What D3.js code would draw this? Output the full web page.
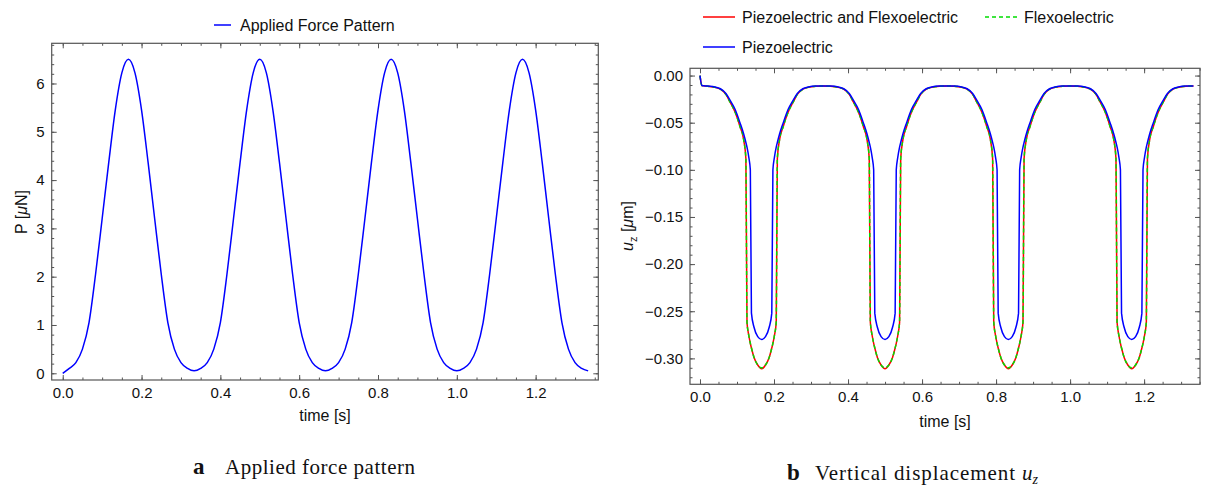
<!DOCTYPE html>
<html>
<head>
<meta charset="utf-8">
<script src="https://cdn.jsdelivr.net/npm/d3@7"></script>
<style>
  body { margin: 0; background: #fff; }
  text { font-family: "Liberation Sans", Arial, sans-serif; fill: #111; }
  .cap { font-family: "Liberation Serif", "DejaVu Serif", serif; }
</style>
</head>
<body>
<svg width="1205" height="487"></svg>
<script>
// ---- panel a: applied force P [uN], sampled every 1/60 s
var forceTime = [
  0, 0.0167, 0.0333, 0.05, 0.0667, 0.0833, 0.1, 0.1167, 0.1333, 0.15,
  0.1667, 0.1833, 0.2, 0.2167, 0.2333, 0.25, 0.2667, 0.2833, 0.3, 0.3167,
  0.3333, 0.35, 0.3667, 0.3833, 0.4, 0.4167, 0.4333, 0.45, 0.4667, 0.4833,
  0.5, 0.5167, 0.5333, 0.55, 0.5667, 0.5833, 0.6, 0.6167, 0.6333, 0.65,
  0.6667, 0.6833, 0.7, 0.7167, 0.7333, 0.75, 0.7667, 0.7833, 0.8, 0.8167,
  0.8333, 0.85, 0.8667, 0.8833, 0.9, 0.9167, 0.9333, 0.95, 0.9667, 0.9833,
  1.0, 1.0167, 1.0333, 1.05, 1.0667, 1.0833, 1.1, 1.1167, 1.1333, 1.15,
  1.1667, 1.1833, 1.2, 1.2167, 1.2333, 1.25, 1.2667, 1.2833, 1.3, 1.3167,
  1.3333
];
var forceP = [
  0.00, 0.10, 0.22, 0.50, 1.05, 2.05, 3.20, 4.36, 5.45, 6.22,
  6.50, 6.22, 5.45, 4.36, 3.20, 2.05, 1.05, 0.50, 0.22, 0.10,
  0.05, 0.10, 0.22, 0.50, 1.05, 2.05, 3.20, 4.36, 5.45, 6.22,
  6.50, 6.22, 5.45, 4.36, 3.20, 2.05, 1.05, 0.50, 0.22, 0.10,
  0.05, 0.10, 0.22, 0.50, 1.05, 2.05, 3.20, 4.36, 5.45, 6.22,
  6.50, 6.22, 5.45, 4.36, 3.20, 2.05, 1.05, 0.50, 0.22, 0.10,
  0.05, 0.10, 0.22, 0.50, 1.05, 2.05, 3.20, 4.36, 5.45, 6.22,
  6.50, 6.22, 5.45, 4.36, 3.20, 2.05, 1.05, 0.50, 0.22, 0.10,
  0.05
];

// ---- panel b: vertical displacement u_z [um]
var dispTime = [
  0, 0.005, 0.02, 0.04, 0.055, 0.07, 0.081, 0.095, 0.108, 0.118, 0.124, 0.127, 0.132, 0.136, 0.139, 0.146, 0.156,
  0.1667, 0.177, 0.187, 0.194, 0.197, 0.201, 0.206, 0.209, 0.215, 0.225, 0.238, 0.252, 0.263, 0.278, 0.293, 0.313,
  0.3333, 0.3533, 0.3733, 0.3883, 0.4033, 0.4143, 0.4283, 0.4413, 0.4513, 0.4573, 0.4603, 0.4653, 0.4693, 0.4723, 0.4793, 0.4893,
  0.5, 0.5103, 0.5203, 0.5273, 0.5303, 0.5343, 0.5393, 0.5423, 0.5483, 0.5583, 0.5713, 0.5853, 0.5963, 0.6113, 0.6263, 0.6463,
  0.6667, 0.6867, 0.7067, 0.7217, 0.7367, 0.7477, 0.7617, 0.7747, 0.7847, 0.7907, 0.7937, 0.7987, 0.8027, 0.8057, 0.8127, 0.8227,
  0.8333, 0.8437, 0.8537, 0.8607, 0.8637, 0.8677, 0.8727, 0.8757, 0.8817, 0.8917, 0.9047, 0.9187, 0.9297, 0.9447, 0.9597, 0.9797,
  1.0, 1.02, 1.04, 1.055, 1.07, 1.081, 1.095, 1.108, 1.118, 1.124, 1.127, 1.132, 1.136, 1.139, 1.146, 1.156,
  1.1667, 1.177, 1.187, 1.194, 1.197, 1.201, 1.206, 1.209, 1.215, 1.225, 1.238, 1.252, 1.263, 1.278, 1.293, 1.313,
  1.3333
];
var uPiezoFlexo = [
  0.000, -0.0105, -0.0113, -0.0125, -0.0145, -0.020, -0.028, -0.039, -0.054, -0.068, -0.088, -0.262, -0.276, -0.284, -0.289, -0.299, -0.307,
  -0.311, -0.307, -0.299, -0.289, -0.284, -0.276, -0.262, -0.088, -0.068, -0.054, -0.039, -0.028, -0.020, -0.0145, -0.0125, -0.0113,
  -0.011, -0.0113, -0.0125, -0.0145, -0.020, -0.028, -0.039, -0.054, -0.068, -0.088, -0.262, -0.276, -0.284, -0.289, -0.299, -0.307,
  -0.311, -0.307, -0.299, -0.289, -0.284, -0.276, -0.262, -0.088, -0.068, -0.054, -0.039, -0.028, -0.020, -0.0145, -0.0125, -0.0113,
  -0.011, -0.0113, -0.0125, -0.0145, -0.020, -0.028, -0.039, -0.054, -0.068, -0.088, -0.262, -0.276, -0.284, -0.289, -0.299, -0.307,
  -0.311, -0.307, -0.299, -0.289, -0.284, -0.276, -0.262, -0.088, -0.068, -0.054, -0.039, -0.028, -0.020, -0.0145, -0.0125, -0.0113,
  -0.011, -0.0113, -0.0125, -0.0145, -0.020, -0.028, -0.039, -0.054, -0.068, -0.088, -0.262, -0.276, -0.284, -0.289, -0.299, -0.307,
  -0.311, -0.307, -0.299, -0.289, -0.284, -0.276, -0.262, -0.088, -0.068, -0.054, -0.039, -0.028, -0.020, -0.0145, -0.0125, -0.0113,
  -0.011
];
var uFlexo = [
  0.000, -0.0105, -0.0113, -0.0125, -0.0145, -0.020, -0.028, -0.039, -0.054, -0.068, -0.088, -0.261, -0.276, -0.284, -0.289, -0.299, -0.307,
  -0.310, -0.307, -0.299, -0.289, -0.284, -0.276, -0.261, -0.088, -0.068, -0.054, -0.039, -0.028, -0.020, -0.0145, -0.0125, -0.0113,
  -0.011, -0.0113, -0.0125, -0.0145, -0.020, -0.028, -0.039, -0.054, -0.068, -0.088, -0.261, -0.276, -0.284, -0.289, -0.299, -0.307,
  -0.310, -0.307, -0.299, -0.289, -0.284, -0.276, -0.261, -0.088, -0.068, -0.054, -0.039, -0.028, -0.020, -0.0145, -0.0125, -0.0113,
  -0.011, -0.0113, -0.0125, -0.0145, -0.020, -0.028, -0.039, -0.054, -0.068, -0.088, -0.261, -0.276, -0.284, -0.289, -0.299, -0.307,
  -0.310, -0.307, -0.299, -0.289, -0.284, -0.276, -0.261, -0.088, -0.068, -0.054, -0.039, -0.028, -0.020, -0.0145, -0.0125, -0.0113,
  -0.011, -0.0113, -0.0125, -0.0145, -0.020, -0.028, -0.039, -0.054, -0.068, -0.088, -0.261, -0.276, -0.284, -0.289, -0.299, -0.307,
  -0.310, -0.307, -0.299, -0.289, -0.284, -0.276, -0.261, -0.088, -0.068, -0.054, -0.039, -0.028, -0.020, -0.0145, -0.0125, -0.0113,
  -0.011
];
var uPiezo = [
  0.000, -0.0105, -0.0112, -0.0122, -0.0140, -0.019, -0.026, -0.036, -0.050, -0.062, -0.071, -0.076, -0.087, -0.100, -0.252, -0.267, -0.277,
  -0.280, -0.277, -0.267, -0.252, -0.100, -0.087, -0.076, -0.071, -0.062, -0.050, -0.036, -0.026, -0.019, -0.0140, -0.0122, -0.0112,
  -0.011, -0.0112, -0.0122, -0.0140, -0.019, -0.026, -0.036, -0.050, -0.062, -0.071, -0.076, -0.087, -0.100, -0.252, -0.267, -0.277,
  -0.280, -0.277, -0.267, -0.252, -0.100, -0.087, -0.076, -0.071, -0.062, -0.050, -0.036, -0.026, -0.019, -0.0140, -0.0122, -0.0112,
  -0.011, -0.0112, -0.0122, -0.0140, -0.019, -0.026, -0.036, -0.050, -0.062, -0.071, -0.076, -0.087, -0.100, -0.252, -0.267, -0.277,
  -0.280, -0.277, -0.267, -0.252, -0.100, -0.087, -0.076, -0.071, -0.062, -0.050, -0.036, -0.026, -0.019, -0.0140, -0.0122, -0.0112,
  -0.011, -0.0112, -0.0122, -0.0140, -0.019, -0.026, -0.036, -0.050, -0.062, -0.071, -0.076, -0.087, -0.100, -0.252, -0.267, -0.277,
  -0.280, -0.277, -0.267, -0.252, -0.100, -0.087, -0.076, -0.071, -0.062, -0.050, -0.036, -0.026, -0.019, -0.0140, -0.0122, -0.0112,
  -0.011
];

// tick labels
var timeTicks = [0, 0.2, 0.4, 0.6, 0.8, 1.0, 1.2];
var forceTicks = [0, 1, 2, 3, 4, 5, 6];
var dispTicks = [0, -0.05, -0.10, -0.15, -0.20, -0.25, -0.30];

var svg = d3.select("svg");
var frameColor = "#555";

// Mathematica-ish frame: ticks pointing in on all four sides
function frame(x, y, xMajor, xMinor, yMajor, yMinor, xFmt, yFmt) {
  var g = svg.append("g");
  var x0 = x.range()[0], x1 = x.range()[1], y0 = y.range()[0], y1 = y.range()[1];

  function axisSet(axisFn, scale, major, minor, fmt, tx, ty, labels) {
    var a = g.append("g").attr("transform", "translate(" + tx + "," + ty + ")")
      .call(axisFn(scale).tickValues(minor).tickSize(-2.5).tickFormat(""));
    a.select(".domain").remove();
    var b = g.append("g").attr("transform", "translate(" + tx + "," + ty + ")")
      .call(axisFn(scale).tickValues(major).tickSize(-5).tickPadding(7)
        .tickFormat(labels ? fmt : ""));
    b.select(".domain").remove();
    [a, b].forEach(function(s) {
      s.selectAll("line").attr("stroke", frameColor).attr("stroke-width", 1);
      s.selectAll("text").style("font-size", "15px").attr("fill", "#111");
    });
  }
  axisSet(d3.axisBottom, x, xMajor, xMinor, xFmt, 0, y0, true);
  axisSet(d3.axisTop, x, xMajor, xMinor, xFmt, 0, y1, false);
  axisSet(d3.axisLeft, y, yMajor, yMinor, yFmt, x0, 0, true);
  axisSet(d3.axisRight, y, yMajor, yMinor, yFmt, x1, 0, false);

  g.append("rect")
    .attr("x", x0).attr("y", y1)
    .attr("width", x1 - x0).attr("height", y0 - y1)
    .attr("fill", "none").attr("stroke", frameColor).attr("stroke-width", 1.2);
  return g;
}

function drawLine(x, y, ts, vs, color, dash) {
  var pts = ts.map(function(t, i) { return [t, vs[i]]; });
  var line = d3.line()
    .x(function(d) { return x(d[0]); })
    .y(function(d) { return y(d[1]); })
    .curve(d3.curveMonotoneX);
  svg.append("path")
    .datum(pts)
    .attr("d", line)
    .attr("fill", "none")
    .attr("stroke", color)
    .attr("stroke-width", 1.5)
    .attr("stroke-dasharray", dash || null);
}

// ---------- panel a
var xA = d3.scaleLinear().domain([-0.028, 1.359]).range([51.7, 598.3]);
var yA = d3.scaleLinear().domain([-0.139, 6.832]).range([380, 43.3]);

frame(xA, yA, timeTicks, d3.range(0, 1.36, 0.05), forceTicks, d3.range(0, 6.81, 0.2),
  d3.format(".1f"), d3.format("d"));
drawLine(xA, yA, forceTime, forceP, "#0000ff");

svg.append("line").attr("x1", 214).attr("x2", 231).attr("y1", 25).attr("y2", 25)
  .attr("stroke", "#0000ff").attr("stroke-width", 1.5);
svg.append("text").attr("x", 240).attr("y", 30.5).style("font-size", "16px")
  .text("Applied Force Pattern");

svg.append("text").attr("x", 325).attr("y", 421).attr("text-anchor", "middle")
  .style("font-size", "16px").text("time [s]");
var ylA = svg.append("text").attr("transform", "translate(27,212) rotate(-90)")
  .attr("text-anchor", "middle").style("font-size", "16px");
ylA.append("tspan").text("P [");
ylA.append("tspan").style("font-style", "italic").text("μ");
ylA.append("tspan").text("N]");

var capA = svg.append("text").attr("class", "cap").attr("x", 193).attr("y", 474)
  .style("font-size", "21px");
capA.append("tspan").style("font-weight", "bold").style("font-size", "23px").text("a");
capA.append("tspan").attr("x", 225).attr("textLength", 190).attr("lengthAdjust", "spacing")
  .text("Applied force pattern");

// ---------- panel b
var xB = d3.scaleLinear().domain([-0.027, 1.351]).range([690, 1200]);
var yB = d3.scaleLinear().domain([-0.3275, 0.0077]).range([384.3, 68.3]);

frame(xB, yB, timeTicks, d3.range(0, 1.36, 0.05), dispTicks, d3.range(0, -0.3251, -0.01),
  d3.format(".1f"), d3.format(".2f"));
drawLine(xB, yB, dispTime, uPiezoFlexo, "#ff0000");
drawLine(xB, yB, dispTime, uFlexo, "#00dd00", "4,3");
drawLine(xB, yB, dispTime, uPiezo, "#0000ff");

var legB = [
  { label: "Piezoelectric and Flexoelectric", color: "#ff0000", dash: null, x: 703, y: 17 },
  { label: "Flexoelectric", color: "#00dd00", dash: "4,3", x: 985, y: 17 },
  { label: "Piezoelectric", color: "#0000ff", dash: null, x: 703, y: 47 }
];
legB.forEach(function(d) {
  svg.append("line").attr("x1", d.x).attr("x2", d.x + 32).attr("y1", d.y).attr("y2", d.y)
    .attr("stroke", d.color).attr("stroke-width", 1.5).attr("stroke-dasharray", d.dash);
  svg.append("text").attr("x", d.x + 39).attr("y", d.y + 5.5).style("font-size", "16px")
    .text(d.label);
});

svg.append("text").attr("x", 945).attr("y", 427).attr("text-anchor", "middle")
  .style("font-size", "16px").text("time [s]");
var yl = svg.append("text").attr("transform", "translate(633,226) rotate(-90)")
  .attr("text-anchor", "middle").style("font-size", "16px");
yl.append("tspan").style("font-style", "italic").text("u");
yl.append("tspan").attr("dy", 4).style("font-size", "11px").text("z");
yl.append("tspan").attr("dy", -4).text(" [");
yl.append("tspan").style("font-style", "italic").text("μ");
yl.append("tspan").text("m]");

var capB = svg.append("text").attr("class", "cap").attr("x", 787).attr("y", 480)
  .style("font-size", "21px");
capB.append("tspan").style("font-weight", "bold").style("font-size", "23px").text("b");
capB.append("tspan").attr("x", 815).attr("textLength", 200).attr("lengthAdjust", "spacing")
  .text("Vertical displacement");
capB.append("tspan").attr("x", 1022).style("font-style", "italic").text("u");
capB.append("tspan").attr("dy", 4).style("font-size", "14px").style("font-style", "italic").text("z");
</script>
</body>
</html>
